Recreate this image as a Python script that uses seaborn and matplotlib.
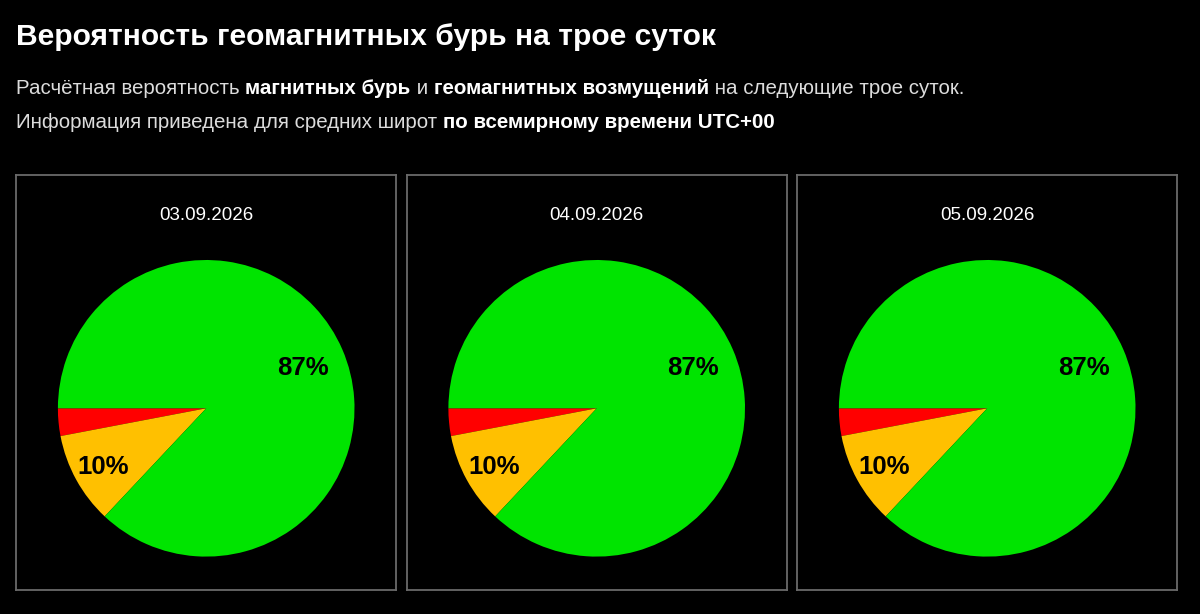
import numpy as np
import matplotlib
matplotlib.use("Agg")
import matplotlib.pyplot as plt
import seaborn as sns

# forecast for three days (percent)
dates = ["03.09.2026", "04.09.2026", "05.09.2026"]
storm = [3, 3, 3]        # магнитные бури (red)
disturb = [10, 10, 10]   # возмущения (yellow)
calm = [87, 87, 87]      # спокойно (green)

title = "Вероятность геомагнитных бурь на трое суток"
line1 = [("Расчётная вероятность ", False), ("магнитных бурь", True), (" и ", False),
         ("геомагнитных возмущений", True), (" на следующие трое суток.", False)]
line2 = [("Информация приведена для средних широт ", False), ("по всемирному времени UTC+00", True)]

sns.set_style("dark")
plt.rcParams["font.family"] = ["Liberation Sans", "DejaVu Sans"]

W, H = 1200, 614
colors = ["#ff0000", "#ffc000", "#00e400"]

fig = plt.figure(figsize=(W / 100, H / 100), dpi=100, facecolor="black")
renderer = fig.canvas.get_renderer()

fig.text(16 / W, 1 - 45 / H, title, fontsize=21.6, fontweight="bold",
         color="white", va="baseline", ha="left")


def rich_line(y_px, parts, size=14.8):
    x = 16
    for s, bold in parts:
        t = fig.text(x / W, 1 - y_px / H, s, fontsize=size,
                     fontweight="bold" if bold else "normal",
                     color="white" if bold else "#dcdcdc",
                     va="baseline", ha="left")
        x += t.get_window_extent(renderer).width


rich_line(94, line1)
rich_line(128, line2)

lefts = [16, 406.5, 797]
box_w, box_h, box_top = 380, 415, 175
cx, cy, r = 190.2, 233.3, 148.3   # pie center / radius inside box, px

for i, d in enumerate(dates):
    ax = fig.add_axes([lefts[i] / W, 1 - (box_top + box_h) / H, box_w / W, box_h / H])
    vals = [storm[i], disturb[i], calm[i]]
    wedges, _, autotexts = ax.pie(
        vals, colors=colors, startangle=180, counterclock=True,
        autopct=lambda p: f"{p:.0f}%" if p >= 5 else "",
        pctdistance=0.75, wedgeprops=dict(linewidth=0),
        textprops=dict(fontsize=18.5, fontweight="bold", color="black"))
    # nudge labels radially like the original
    for w, t, dist in zip(wedges, autotexts, [0.75, 0.79, 0.71]):
        ang = np.deg2rad((w.theta1 + w.theta2) / 2)
        t.set_position((dist * np.cos(ang), dist * np.sin(ang) - 0.012))
    ax.set_aspect("auto")
    ax.set_xlim(-cx / r, (box_w - cx) / r)
    ax.set_ylim(-(box_h - cy) / r, cy / r)
    ax.set_facecolor("black")
    ax.set_frame_on(True)
    for sp in ax.spines.values():
        sp.set_color("#6a6a6a")
        sp.set_linewidth(1.3)
    ax.set_xticks([])
    ax.set_yticks([])
    ax.text(0.5, 1 - 45 / box_h, d, transform=ax.transAxes, ha="center",
            va="baseline", color="white", fontsize=13.5)

fig.savefig("out.png", dpi=100, facecolor="black")
